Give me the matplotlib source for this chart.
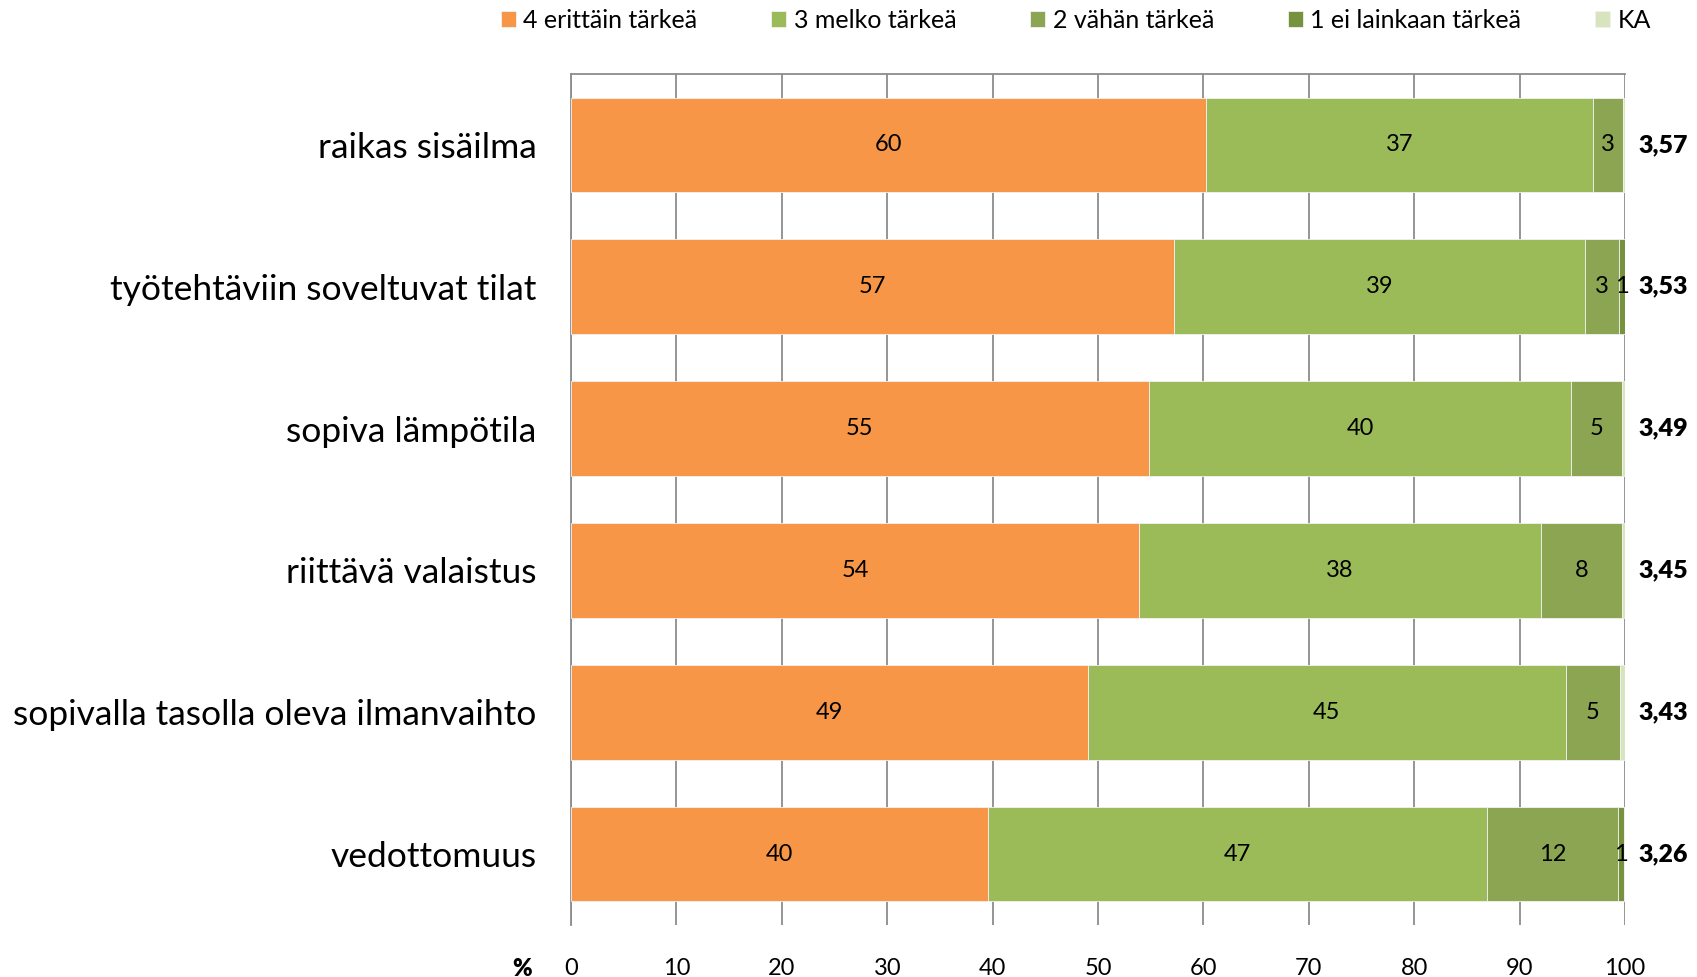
import numpy as np
import matplotlib.pyplot as plt

plt.rcParams['font.family'] = ['Lato', 'DejaVu Sans']

# data
categories = ['raikas sisäilma', 'työtehtäviin soveltuvat tilat', 'sopiva lämpötila',
              'riittävä valaistus', 'sopivalla tasolla oleva ilmanvaihto', 'vedottomuus']
series = ['4 erittäin tärkeä', '3 melko tärkeä', '2 vähän tärkeä', '1 ei lainkaan tärkeä', 'KA']
v4 = [60.2, 57.2, 54.8, 53.9, 49.0, 39.6]
v3 = [36.8, 39.0, 40.1, 38.1, 45.4, 47.3]
v2 = [2.8, 3.2, 4.8, 7.7, 5.1, 12.4]
v1 = [0.0, 0.6, 0.0, 0.0, 0.0, 0.6]
vka = [0.3, 0.0, 0.3, 0.3, 0.5, 0.1]
means = ['3,57', '3,53', '3,49', '3,45', '3,43', '3,26']
xticks = np.arange(0, 101, 10)

colors = ['#F79646', '#9BBB59', '#8BA553', '#76923C', '#D7E4BD']

fig = plt.figure(figsize=(16.97, 9.77), dpi=100)
ax = fig.add_axes([0.3365, 0.0532, 0.6211, 0.8711])

y = np.arange(len(categories))
left = np.zeros(len(categories))
for vals, col, name in zip([v4, v3, v2, v1, vka], colors, series):
    vals = np.array(vals)
    ax.barh(y, vals, left=left, height=0.667, color=col, label=name,
            edgecolor='#f2f2f2', linewidth=0.6, zorder=3)
    if name != 'KA':
        for yi, l, v in zip(y, left, vals):
            if round(v) > 0:
                ax.text(l + v / 2, yi, '%d' % round(v), ha='center', va='center',
                        fontsize=17, color='black', zorder=4)
    left = left + vals

for yi, m in zip(y, means):
    ax.text(101.3, yi, m, ha='left', va='center', fontsize=18,
            fontweight='heavy', clip_on=False)

ax.set_xlim(0, 100)
ax.set_ylim(len(categories) - 0.5, -0.5)
ax.set_yticks(y)
ax.set_yticklabels(categories, fontsize=25.5)
ax.set_xticks(xticks)
ax.set_xticklabels([str(t) for t in xticks], fontsize=17)
ax.tick_params(axis='y', length=0, pad=25)
ax.tick_params(axis='x', length=0, pad=24)
ax.grid(axis='x', color='#8c8c8c', linewidth=1.3, zorder=0)
for s in ['right', 'bottom']:
    ax.spines[s].set_visible(False)
for s in ['top', 'left']:
    ax.spines[s].set_color('#8c8c8c')
    ax.spines[s].set_linewidth(1.3)

ax.text(-4.6, -0.039, '%', transform=ax.get_xaxis_transform(), ha='center',
        va='top', fontsize=17, fontweight='heavy', clip_on=False)

fig.legend(loc='upper center', bbox_to_anchor=(0.634, 1.014), ncol=5, frameon=False,
           fontsize=18, handlelength=0.6, handleheight=0.6, handletextpad=0.3,
           columnspacing=2.95)

plt.savefig('out.png', dpi=100)
plt.close()
